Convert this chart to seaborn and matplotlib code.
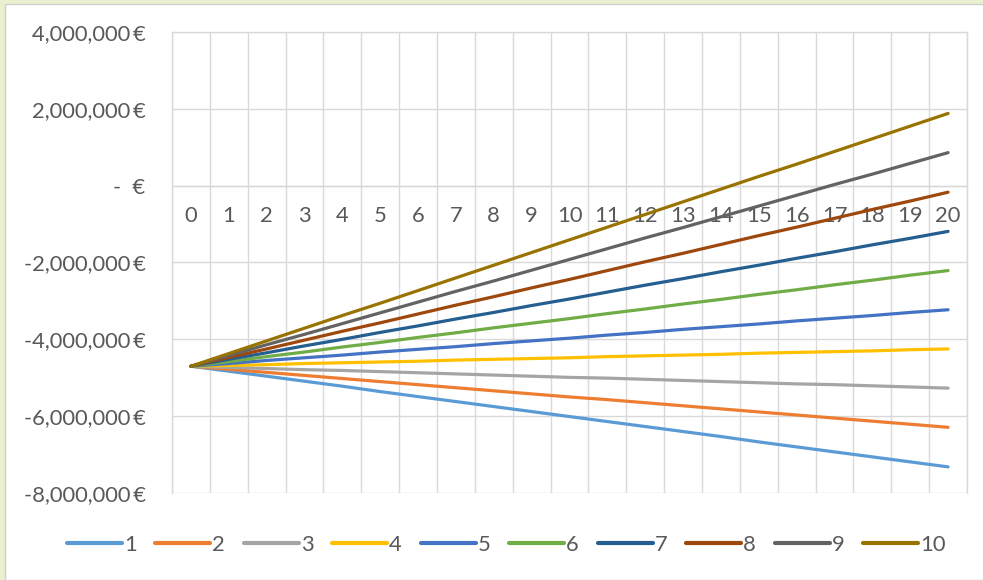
import seaborn as sns
import matplotlib.pyplot as plt
import matplotlib.patches as mpatches
from matplotlib.ticker import FuncFormatter, MultipleLocator
import pandas as pd

# Years on the category axis
years = list(range(21))

# Cumulative value per scenario, in million euro
s1 = [-4.70, -4.83, -4.96, -5.09, -5.22, -5.36, -5.49, -5.62, -5.75, -5.88, -6.01,
      -6.14, -6.27, -6.40, -6.53, -6.67, -6.80, -6.93, -7.06, -7.19, -7.32]
s2 = [-4.70, -4.78, -4.86, -4.94, -5.02, -5.10, -5.18, -5.26, -5.34, -5.42, -5.50,
      -5.57, -5.65, -5.73, -5.81, -5.89, -5.97, -6.05, -6.13, -6.21, -6.29]
s3 = [-4.70, -4.73, -4.76, -4.79, -4.81, -4.84, -4.87, -4.90, -4.93, -4.96, -4.99,
      -5.01, -5.04, -5.07, -5.10, -5.13, -5.16, -5.18, -5.21, -5.24, -5.27]
s4 = [-4.70, -4.68, -4.66, -4.63, -4.61, -4.59, -4.57, -4.54, -4.52, -4.50, -4.48,
      -4.45, -4.43, -4.41, -4.39, -4.36, -4.34, -4.32, -4.30, -4.27, -4.25]
s5 = [-4.70, -4.63, -4.55, -4.48, -4.41, -4.33, -4.26, -4.19, -4.11, -4.04, -3.97,
      -3.89, -3.82, -3.74, -3.67, -3.60, -3.52, -3.45, -3.38, -3.30, -3.23]
s6 = [-4.70, -4.58, -4.45, -4.33, -4.20, -4.08, -3.95, -3.83, -3.70, -3.58, -3.46,
      -3.33, -3.21, -3.08, -2.96, -2.83, -2.71, -2.58, -2.46, -2.33, -2.21]
s7 = [-4.70, -4.52, -4.35, -4.17, -4.00, -3.82, -3.65, -3.47, -3.30, -3.12, -2.95,
      -2.77, -2.59, -2.42, -2.24, -2.07, -1.89, -1.72, -1.54, -1.37, -1.19]
s8 = [-4.70, -4.47, -4.25, -4.02, -3.79, -3.57, -3.34, -3.11, -2.89, -2.66, -2.44,
      -2.21, -1.98, -1.76, -1.53, -1.30, -1.08, -0.85, -0.62, -0.40, -0.17]
s9 = [-4.70, -4.42, -4.14, -3.87, -3.59, -3.31, -3.03, -2.75, -2.48, -2.20, -1.92,
      -1.64, -1.36, -1.09, -0.81, -0.53, -0.25, 0.03, 0.30, 0.58, 0.86]
s10 = [-4.70, -4.37, -4.04, -3.71, -3.38, -3.06, -2.73, -2.40, -2.07, -1.74, -1.41,
       -1.08, -0.75, -0.42, -0.09, 0.24, 0.56, 0.89, 1.22, 1.55, 1.88]

series_names = ["1", "2", "3", "4", "5", "6", "7", "8", "9", "10"]
series_vals = [s1, s2, s3, s4, s5, s6, s7, s8, s9, s10]
colors = ["#5B9BD5", "#ED7D31", "#A5A5A5", "#FFC000", "#4472C4",
          "#70AD47", "#255E91", "#9E480E", "#636363", "#997300"]
y_ticks = [-8e6, -6e6, -4e6, -2e6, 0, 2e6, 4e6]

rows = []
for name, vals in zip(series_names, series_vals):
    for yr, v in zip(years, vals):
        rows.append({"Year": yr, "Value": v * 1e6, "Series": name})
df = pd.DataFrame(rows)

sns.set_theme(style="white")
plt.rcParams['font.family'] = ['Lato', 'DejaVu Sans']
txt_color = '#595959'
grid_color = '#D9D9D9'
fs = 15.8

fig = plt.figure(figsize=(9.83, 5.8), dpi=100)
ax = fig.add_axes([172 / 983, 1 - 493 / 580, 795 / 983, 461 / 580])

# screenshot frame on the left and top
fig.patches.append(mpatches.Rectangle((0, 0), 5 / 983, 1, transform=fig.transFigure,
                                      facecolor='#EAF1D0', edgecolor='none', zorder=0))
fig.patches.append(mpatches.Rectangle((0, 1 - 4 / 580), 1, 4 / 580, transform=fig.transFigure,
                                      facecolor='#EAF1D0', edgecolor='none', zorder=0))
fig.patches.append(mpatches.Rectangle((5 / 983, 0), 1, 1 - 4 / 580 - 1e-4, transform=fig.transFigure,
                                      facecolor='none', edgecolor='#D0D0D0', lw=1, zorder=0))

sns.lineplot(data=df, x="Year", y="Value", hue="Series", palette=colors, ax=ax,
             linewidth=2.3, solid_capstyle='round', zorder=3)

ax.set_xlim(-0.5, 20.5)
ax.set_ylim(-8e6, 4e6)
ax.set_yticks(y_ticks)
ax.set_xticks(years)
ax.set_xticklabels([str(y) for y in years])
ax.xaxis.set_minor_locator(MultipleLocator(1, offset=0.5))


def euro(v, pos):
    if v == 0:
        return "-  €"
    return f"{v:,.0f}\u2009€"


ax.yaxis.set_major_formatter(FuncFormatter(euro))
ax.grid(axis='y', which='major', color=grid_color, lw=1)
ax.grid(axis='x', which='minor', color=grid_color, lw=1)
ax.grid(axis='x', which='major', visible=False)

for side in ['top', 'left', 'right']:
    ax.spines[side].set_color(grid_color)
    ax.spines[side].set_linewidth(1)
ax.spines['bottom'].set_position(('data', 0))
ax.spines['bottom'].set_color(grid_color)
ax.spines['bottom'].set_linewidth(1)

ax.tick_params(axis='x', which='both', length=0, pad=15, labelsize=fs, labelcolor=txt_color)
ax.tick_params(axis='y', length=0, pad=19, labelsize=fs, labelcolor=txt_color)

ax.set(title=None, xlabel=None, ylabel=None)

sns.move_legend(ax, "center", bbox_to_anchor=(0.515, 1 - 545 / 580), bbox_transform=fig.transFigure,
                ncol=10, frameon=False, title=None, fontsize=fs, handlelength=2.5,
                handletextpad=0.1, columnspacing=0.85, labelcolor=txt_color)
for h in ax.get_legend().legend_handles:
    h.set_linewidth(3)
    h.set_solid_capstyle('round')

plt.savefig('out.png', dpi=100)
